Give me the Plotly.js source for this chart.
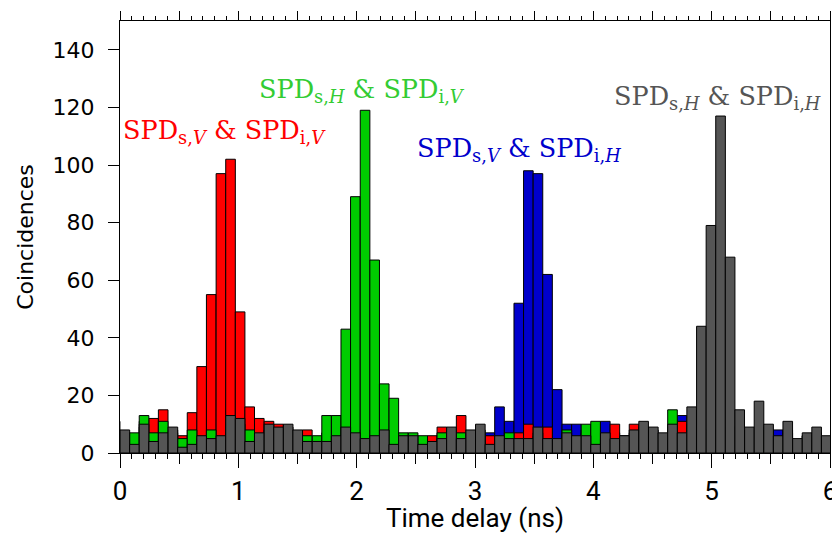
<!DOCTYPE html>
<html><head><meta charset="utf-8">
<script src="https://cdn.plot.ly/plotly-3.0.1.min.js"></script>
<style>html,body{margin:0;padding:0;background:#fff}#chart{width:832px;height:533px}</style>
</head><body><div id="chart"></div>
<script>
// Bin centres (ns), bin width ~81 ps
const timeBins = [-0.041,
 0.041,0.122,0.203,0.284,0.365,0.447,0.528,0.609,0.690,0.771,
 0.853,0.934,1.015,1.096,1.177,1.259,1.340,1.421,1.502,1.583,
 1.665,1.746,1.827,1.908,1.989,2.071,2.152,2.233,2.314,2.395,
 2.477,2.558,2.639,2.720,2.801,2.883,2.964,3.045,3.126,3.207,
 3.289,3.370,3.451,3.532,3.613,3.695,3.776,3.857,3.938,4.019,
 4.101,4.182,4.263,4.344,4.425,4.507,4.588,4.669,4.750,4.831,
 4.913,4.994,5.075,5.156,5.237,5.319,5.400,5.481,5.562,5.643,
 5.725,5.806,5.887,5.968];
const binWidth = 0.0812;

// SPD_s,V & SPD_i,V (red)
const countsSV_IV = [7,
 5,5,9,12,15,6,6,14,30,55,
 97,102,49,16,12,11,10,9,7,8,
 5,7,5,6,5,8,5,6,7,4,
 5,4,6,9,7,13,6,7,6,4,
 6,7,10,6,9,3,6,4,7,6,
 6,10,4,10,9,6,5,8,11,9,
 7,6,8,5,9,7,6,8,5,7,
 4,5,6,4];
// SPD_s,H & SPD_i,V (green)
const countsSH_IV = [8,
 6,7,13,7,11,7,5,8,5,8,
 4,9,10,8,5,8,7,8,6,6,
 6,13,13,43,89,119,67,24,19,7,
 7,6,3,7,6,7,7,8,2,5,
 7,4,4,7,3,4,8,5,10,11,
 5,4,5,6,8,7,6,15,5,10,
 6,8,7,9,8,6,9,7,4,8,
 4,6,7,5];
// SPD_s,V & SPD_i,H (blue)
const countsSV_IH = [6,
 7,4,11,8,9,8,4,6,7,6,
 5,8,7,9,6,7,6,7,5,5,
 3,5,8,7,6,4,7,5,4,5,
 4,5,5,6,8,8,5,6,7,16,
 11,52,98,97,62,22,10,10,8,5,
 11,7,6,7,7,8,4,9,13,8,
 5,7,6,8,6,5,7,6,8,5,
 4,6,5,4];
// SPD_s,H & SPD_i,H (grey)
const countsSH_IH = [11,
 8,3,10,4,7,9,2,3,6,5,
 6,13,12,4,7,10,9,10,8,4,
 4,4,6,9,7,5,6,8,3,6,
 6,3,4,5,9,5,8,10,3,6,
 5,5,5,9,5,5,7,6,6,3,
 7,5,6,8,11,9,7,10,7,16,
 44,79,117,68,15,9,18,10,6,11,
 5,7,9,6];

function barTrace(y, color, name){
  return {type:'bar', x: timeBins, y: y, width: binWidth, name: name,
    marker:{color: color, line:{color:'#000', width:1}}, hoverinfo:'x+y'};
}
// drawing order back-to-front: blue, red, green, grey
const data = [
  barTrace(countsSV_IH, '#0000cc', 'SV-IH'),
  barTrace(countsSV_IV, '#ff0000', 'SV-IV'),
  barTrace(countsSH_IV, '#00cc00', 'SH-IV'),
  barTrace(countsSH_IH, '#555555', 'SH-IH'),
  // empty helper traces so the extra tick axes are drawn
  {type:'scatter', mode:'markers', x:[], y:[], xaxis:'x2', yaxis:'y', hoverinfo:'skip'},
  {type:'scatter', mode:'markers', x:[], y:[], xaxis:'x3', yaxis:'y', hoverinfo:'skip'}
];

const sans = 'DejaVu Sans, Verdana, sans-serif';
const xsans = 'Roboto, Liberation Sans, sans-serif';
const serif = 'DejaVu Serif, Liberation Serif, serif';
const layout = {
  width: 832, height: 533,
  margin: {l:120, r:2, t:21, b:80},
  paper_bgcolor:'#fff', plot_bgcolor:'#fff',
  barmode:'overlay', bargap:0, showlegend:false,
  font:{family:sans, size:20, color:'#000'},
  xaxis:{range:[0,6], dtick:1, tick0:0, ticks:'outside', ticklen:14, tickwidth:1, tickcolor:'#000',
    minor:{dtick:0.1, tick0:0, ticks:'outside', ticklen:5, tickwidth:1, tickcolor:'#000'},
    showline:true, linecolor:'#000', linewidth:1, showgrid:false, zeroline:false,
    ticklabeloverflow:'allow', ticklabelstandoff:1,
    tickfont:{family:xsans, size:26},
    title:{text:'Time delay (ns)', font:{family:xsans, size:26}, standoff:4}},
  xaxis3:{range:[0,6], overlaying:'x', side:'bottom', anchor:'y', tickvals:[0.5,1.5,2.5,3.5,4.5,5.5],
    ticks:'outside', ticklen:10, tickwidth:1, tickcolor:'#000', showticklabels:false,
    showgrid:false, zeroline:false, showline:false},
  xaxis2:{range:[0,6], overlaying:'x', side:'top', anchor:'y', dtick:0.5, tick0:0,
    ticks:'outside', ticklen:9, tickwidth:1, tickcolor:'#000', showticklabels:false,
    minor:{dtick:0.1, tick0:0, ticks:'outside', ticklen:4, tickwidth:1, tickcolor:'#000'},
    showline:true, linecolor:'#000', linewidth:1, showgrid:false, zeroline:false},
  yaxis:{range:[0,150], dtick:20, tick0:0, ticks:'outside', ticklen:11, tickwidth:1, tickcolor:'#000',
    showline:true, linecolor:'#000', linewidth:1, mirror:true, showgrid:false, zeroline:false,
    ticklabelstandoff:9,
    tickfont:{family:sans, size:22},
    title:{text:'Coincidences', font:{family:sans, size:22}, standoff:12}},
  annotations:[
    {x:0.012, y:111.5, xref:'x', yref:'y', xanchor:'left', yanchor:'middle', showarrow:false,
     text:'SPD<sub>s,<i>V</i></sub> &amp; SPD<sub>i,<i>V</i></sub>', font:{family:serif, size:25.5, color:'#ff0000'}},
    {x:1.16, y:126, xref:'x', yref:'y', xanchor:'left', yanchor:'middle', showarrow:false,
     text:'SPD<sub>s,<i>H</i></sub> &amp; SPD<sub>i,<i>V</i></sub>', font:{family:serif, size:25.5, color:'#33cc33'}},
    {x:2.49, y:105.5, xref:'x', yref:'y', xanchor:'left', yanchor:'middle', showarrow:false,
     text:'SPD<sub>s,<i>V</i></sub> &amp; SPD<sub>i,<i>H</i></sub>', font:{family:serif, size:25.5, color:'#0000cc'}},
    {x:4.16, y:123.5, xref:'x', yref:'y', xanchor:'left', yanchor:'middle', showarrow:false,
     text:'SPD<sub>s,<i>H</i></sub> &amp; SPD<sub>i,<i>H</i></sub>', font:{family:serif, size:25.5, color:'#555555'}}
  ]
};
Plotly.newPlot('chart', data, layout, {displayModeBar:false, staticPlot:true});
</script>
</body></html>
